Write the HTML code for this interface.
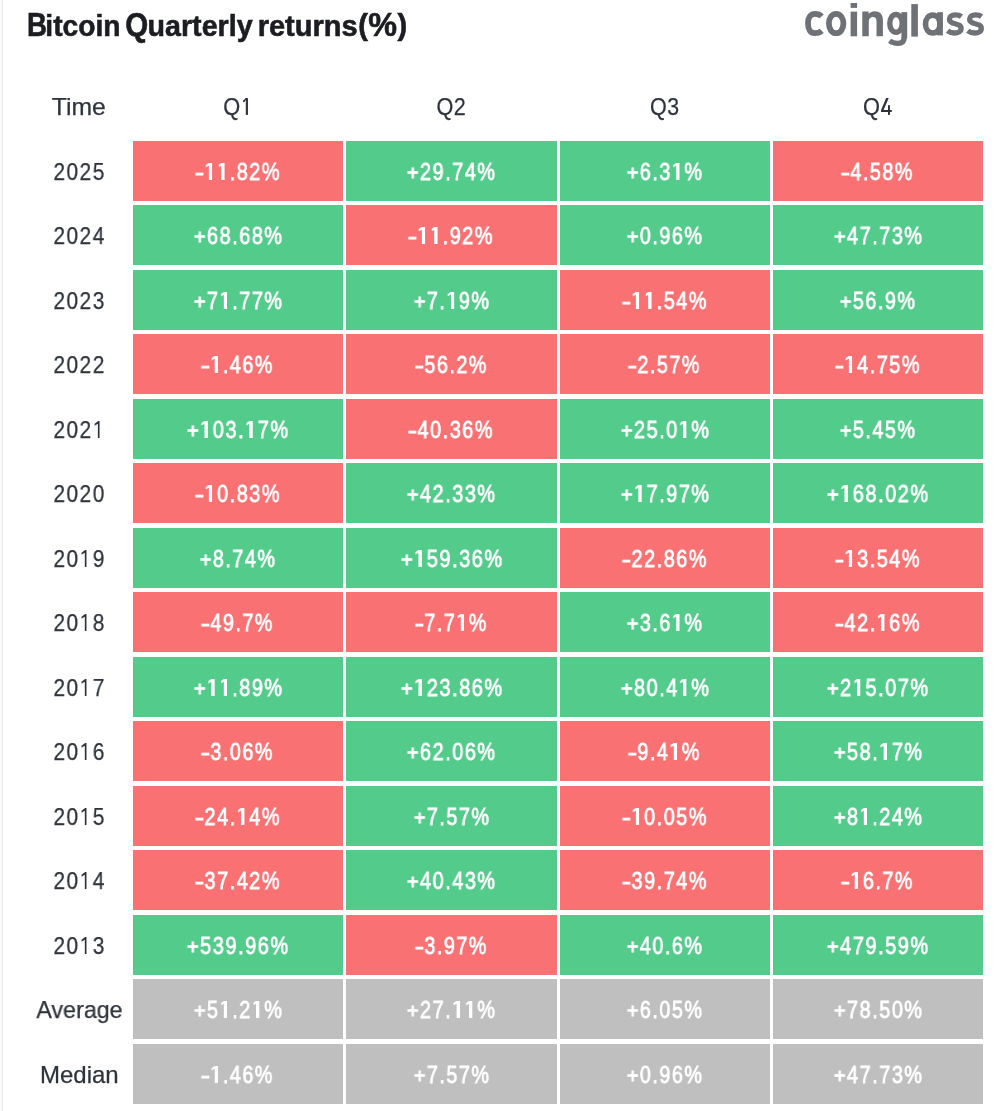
<!DOCTYPE html>
<html><head><meta charset="utf-8"><title>Bitcoin Quarterly returns(%) - coinglass</title>
<style>
html,body{margin:0;padding:0;background:#fff;}
body{width:1005px;height:1111px;overflow:hidden;position:relative;font-family:"Liberation Sans",sans-serif;}
.lb{position:absolute;left:0;top:0;width:2px;height:1111px;background:#fafafa;}
.ln{position:absolute;left:2px;top:0;width:1px;height:1111px;background:#e6e6e6;}
svg.hd{position:absolute;left:0;top:0;will-change:transform;}
svg text{font-family:"Liberation Sans",sans-serif;}
.c{position:absolute;height:60px;color:#fff;font-size:24px;line-height:60px;text-align:center;white-space:nowrap;-webkit-text-stroke:0.8px #fff;}
.c span{display:inline-block;will-change:transform;position:relative;top:1px;letter-spacing:1.83px;margin-right:-1.83px;}
.c i{font-style:normal;font-size:24px;display:inline-block;line-height:1;-webkit-text-stroke-width:1.2px;transform:translateY(1.0px) scaleY(0.84);}
.c b{font-weight:normal;display:inline-block;transform:scaleX(1.45);}
.c s{display:inline-block;width:15.18px;height:0;position:relative;text-decoration:none;}
.c s::before{content:"";position:absolute;left:5.4px;bottom:-0.2px;width:3.6px;height:17.6px;background:#fff;}
.c s u,.y s u{position:absolute;left:0;bottom:0;opacity:0;text-decoration:none;line-height:normal;}
.sr{position:absolute;left:-9999px;top:0;width:1px;height:1px;overflow:hidden;}
.y s{display:inline-block;width:15.05px;height:0;position:relative;text-decoration:none;}
.y s::before{content:"";position:absolute;left:5.85px;bottom:-0.1px;width:2.25px;height:17.0px;background:#2e333b;}
.y s::after{content:"";position:absolute;left:2.25px;bottom:12.30px;width:4.0px;height:4.6px;background:#2e333b;clip-path:polygon(100% 0,100% 50%,0 100%,0 55%);}
.c s::after{content:"";position:absolute;left:1.60px;bottom:12.40px;width:4.3px;height:5.0px;background:#fff;clip-path:polygon(100% 0,100% 52%,0 100%,0 48%);}
.r{background:#f97173;}
.g{background:#52cb8b;}
.a{background:#bfbfbf;}
.h,.y{position:absolute;text-align:center;color:#2e333b;font-size:24px;white-space:nowrap;-webkit-text-stroke:0.25px #2e333b;}
.h{height:40px;line-height:40px;}
.y{left:29px;width:100px;height:60px;line-height:60px;}
.h span,.y span{display:inline-block;will-change:transform;position:relative;top:1px;}
</style></head><body>
<div class="lb"></div><div class="ln"></div>
<h1 class="sr">Bitcoin Quarterly returns(%) — coinglass</h1>
<svg class="hd" width="1005" height="130" viewBox="0 0 1005 130">

<text x="26.92" y="35.80" font-size="32.7" font-weight="bold" textLength="19.97" lengthAdjust="spacingAndGlyphs" fill="#1b1d21" stroke="#1b1d21" stroke-width="0.6">B</text>
<text x="45.32" y="35.80" font-size="30" font-weight="bold" textLength="75.27" lengthAdjust="spacingAndGlyphs" fill="#1b1d21" stroke="#1b1d21" stroke-width="0.6">itcoin</text>
<text x="125.23" y="35.80" font-size="32.7" font-weight="bold" textLength="22.98" lengthAdjust="spacingAndGlyphs" fill="#1b1d21" stroke="#1b1d21" stroke-width="0.6">Q</text>
<text x="147.58" y="35.80" font-size="30" font-weight="bold" textLength="104.97" lengthAdjust="spacingAndGlyphs" fill="#1b1d21" stroke="#1b1d21" stroke-width="0.6">uarterly</text>
<text x="257.66" y="35.80" font-size="30" font-weight="bold" textLength="100.06" lengthAdjust="spacingAndGlyphs" fill="#1b1d21" stroke="#1b1d21" stroke-width="0.6">returns</text>
<text x="358.20" y="34.80" font-size="29.1" font-weight="bold" textLength="9.69" lengthAdjust="spacingAndGlyphs" fill="#1b1d21" stroke="#1b1d21" stroke-width="0.6">(</text>
<text x="368.31" y="35.80" font-size="32.7" font-weight="bold" textLength="28.76" lengthAdjust="spacingAndGlyphs" fill="#1b1d21" stroke="#1b1d21" stroke-width="0.6">%</text>
<text x="397.50" y="34.80" font-size="29.1" font-weight="bold" textLength="9.69" lengthAdjust="spacingAndGlyphs" fill="#1b1d21" stroke="#1b1d21" stroke-width="0.6">)</text>
<g fill="#6e7276">
<rect x="850.6" y="11.6" width="6.5" height="24.7"/>
<rect x="850.6" y="3.0" width="6.5" height="4.9"/>
<path d="M862.3,11.4 H868.6 V13.8 C870.2,12.1 872.3,11.2 874.6,11.2 C879.8,11.2 882.9,14.4 882.9,19.8 V36.3 H876.5 V21 C876.5,18.4 875.2,16.9 872.8,16.9 C870.5,16.9 868.8,18.6 868.8,21.2 V36.3 H862.3 Z"/>
<rect x="901.4" y="12.1" width="5.8" height="26.4"/>
<rect x="911.3" y="4.1" width="6.6" height="32.5"/>
<rect x="937.2" y="12.2" width="5.7" height="23.2"/>
</g>
<g fill="none" stroke="#6e7276">
<path stroke-width="5.8" d="M821.65,16.4 C820,14.6 817.6,13.9 814.8,13.9 C810.5,13.9 808,17.6 808,23.55 C808,29.5 810.5,33.2 814.8,33.2 C817.6,33.2 820,32.5 821.65,30.8"/>
<path stroke-width="5.8" d="M836.15,13.9 C840.35,13.9 843.4,17.95 843.4,23.55 C843.4,29.15 840.35,33.2 836.15,33.2 C831.95,33.2 828.9,29.15 828.9,23.55 C828.9,17.95 831.95,13.9 836.15,13.9 Z"/>
<path stroke-width="5.4" d="M896,14.5 C899.6,14.5 902.2,18.24 902.2,23.4 C902.2,28.56 899.6,32.3 896,32.3 C892.4,32.3 889.8,28.56 889.8,23.4 C889.8,18.24 892.4,14.5 896,14.5 Z"/>
<path stroke-width="5.2" d="M904.3,37 C904.3,41.6 901.6,43.4 897.8,43.4 C894.6,43.4 891.8,42.5 889.6,40.8"/>
<path stroke-width="5.6" d="M932.7,15.15 C936.88,15.15 939.9,18.91 939.9,24.1 C939.9,29.29 936.88,33.05 932.7,33.05 C928.52,33.05 925.5,29.29 925.5,24.1 C925.5,18.91 928.52,15.15 932.7,15.15 Z"/>
<path stroke-width="5.3" d="M961.4,16.55 C959.8,15.3 957.6,14.85 955.2,14.85 C951.8,14.85 949.4,16.6 949.4,19.3 C949.4,22.2 951.8,23 955,23.8 C958.6,24.7 961.1,25.4 961.1,28.4 C961.1,31.3 958.3,33.0 954.5,33.0 C951.6,33.0 949.2,32.1 947.55,30.75"/>
<path stroke-width="5.3" transform="translate(20.2,0)" d="M961.4,16.55 C959.8,15.3 957.6,14.85 955.2,14.85 C951.8,14.85 949.4,16.6 949.4,19.3 C949.4,22.2 951.8,23 955,23.8 C958.6,24.7 961.1,25.4 961.1,28.4 C961.1,31.3 958.3,33.0 954.5,33.0 C951.6,33.0 949.2,32.1 947.55,30.75"/>
</g>
<text x="223.30" y="114.90" font-size="24" font-weight="normal" textLength="16.97" lengthAdjust="spacingAndGlyphs" fill="#2e333b" stroke="#2e333b" stroke-width="0.25">Q</text>
<g fill="#2e333b"><rect x="245.8" y="98.1" width="2.15" height="16.8"/><path d="M245.8,98.1 H247.2 L244.0,102.5 L242.6,100.9 Z"/></g>
<text x="436.61" y="114.90" font-size="24" font-weight="normal" textLength="16.86" lengthAdjust="spacingAndGlyphs" fill="#2e333b" stroke="#2e333b" stroke-width="0.25">Q</text>
<text x="453.82" y="114.90" font-size="24" font-weight="normal" textLength="12.01" lengthAdjust="spacingAndGlyphs" fill="#2e333b" stroke="#2e333b" stroke-width="0.25">2</text>
<text x="650.01" y="114.90" font-size="24" font-weight="normal" textLength="16.75" lengthAdjust="spacingAndGlyphs" fill="#2e333b" stroke="#2e333b" stroke-width="0.25">Q</text>
<text x="667.20" y="114.90" font-size="24" font-weight="normal" textLength="11.83" lengthAdjust="spacingAndGlyphs" fill="#2e333b" stroke="#2e333b" stroke-width="0.25">3</text>
<text x="863.00" y="114.90" font-size="24" font-weight="normal" textLength="16.97" lengthAdjust="spacingAndGlyphs" fill="#2e333b" stroke="#2e333b" stroke-width="0.25">Q</text>
<g fill="#2e333b"><path d="M886.1,97.9 H888.7 L883.6,110.1 H891.8 V111.9 H881.0 V110.3 Z"/><rect x="888.0" y="105.2" width="1.95" height="9.7"/></g>
</svg>
<div class="h" style="left:29px;width:100px;top:86px"><span style="transform:translateX(-0.5px) scaleX(1.03);letter-spacing:0px">Time</span></div>
<div class="y" style="top:141px"><span style="transform:translateX(-0.5px) scaleX(0.87);letter-spacing:1.7px;margin-right:-1.7px">2025</span></div>
<div class="c r" style="left:133px;top:141px;width:210px"><span style="transform:translateX(-0.4px) scaleX(0.8282)"><b>-</b><s><u>1</u></s><s><u>1</u></s>.82%</span></div>
<div class="c g" style="left:346px;top:141px;width:211px"><span style="transform:translateX(-0.4px) scaleX(0.8274)"><i>+</i>29.74%</span></div>
<div class="c g" style="left:560px;top:141px;width:210px"><span style="transform:translateX(-0.4px) scaleX(0.8215)"><i>+</i>6.3<s><u>1</u></s>%</span></div>
<div class="c r" style="left:773px;top:141px;width:210px"><span style="transform:translateX(-0.4px) scaleX(0.8223)"><b>-</b>4.58%</span></div>
<div class="y" style="top:205px"><span style="transform:translateX(-0.5px) scaleX(0.87);letter-spacing:1.7px;margin-right:-1.7px">2024</span></div>
<div class="c g" style="left:133px;top:205px;width:210px"><span style="transform:translateX(-0.4px) scaleX(0.8274)"><i>+</i>68.68%</span></div>
<div class="c r" style="left:346px;top:205px;width:211px"><span style="transform:translateX(-0.4px) scaleX(0.8282)"><b>-</b><s><u>1</u></s><s><u>1</u></s>.92%</span></div>
<div class="c g" style="left:560px;top:205px;width:210px"><span style="transform:translateX(-0.4px) scaleX(0.8215)"><i>+</i>0.96%</span></div>
<div class="c g" style="left:773px;top:205px;width:210px"><span style="transform:translateX(-0.4px) scaleX(0.8274)"><i>+</i>47.73%</span></div>
<div class="y" style="top:270px"><span style="transform:translateX(-0.5px) scaleX(0.87);letter-spacing:1.7px;margin-right:-1.7px">2023</span></div>
<div class="c g" style="left:133px;top:270px;width:210px"><span style="transform:translateX(-0.4px) scaleX(0.8274)"><i>+</i>7<s><u>1</u></s>.77%</span></div>
<div class="c g" style="left:346px;top:270px;width:211px"><span style="transform:translateX(-0.4px) scaleX(0.8215)"><i>+</i>7.<s><u>1</u></s>9%</span></div>
<div class="c r" style="left:560px;top:270px;width:210px"><span style="transform:translateX(-0.4px) scaleX(0.8282)"><b>-</b><s><u>1</u></s><s><u>1</u></s>.54%</span></div>
<div class="c g" style="left:773px;top:270px;width:210px"><span style="transform:translateX(-0.4px) scaleX(0.8215)"><i>+</i>56.9%</span></div>
<div class="y" style="top:334px"><span style="transform:translateX(-0.5px) scaleX(0.87);letter-spacing:1.7px;margin-right:-1.7px">2022</span></div>
<div class="c r" style="left:133px;top:334px;width:210px"><span style="transform:translateX(-0.4px) scaleX(0.8223)"><b>-</b><s><u>1</u></s>.46%</span></div>
<div class="c r" style="left:346px;top:334px;width:211px"><span style="transform:translateX(-0.4px) scaleX(0.8223)"><b>-</b>56.2%</span></div>
<div class="c r" style="left:560px;top:334px;width:210px"><span style="transform:translateX(-0.4px) scaleX(0.8223)"><b>-</b>2.57%</span></div>
<div class="c r" style="left:773px;top:334px;width:210px"><span style="transform:translateX(-0.4px) scaleX(0.8284)"><b>-</b><s><u>1</u></s>4.75%</span></div>
<div class="y" style="top:399px"><span style="transform:translateX(-0.5px) scaleX(0.87);letter-spacing:1.7px;margin-right:-1.7px">202<s><u>1</u></s></span></div>
<div class="c g" style="left:133px;top:399px;width:210px"><span style="transform:translateX(-0.4px) scaleX(0.8318)"><i>+</i><s><u>1</u></s>03.<s><u>1</u></s>7%</span></div>
<div class="c r" style="left:346px;top:399px;width:211px"><span style="transform:translateX(-0.4px) scaleX(0.8284)"><b>-</b>40.36%</span></div>
<div class="c g" style="left:560px;top:399px;width:210px"><span style="transform:translateX(-0.4px) scaleX(0.8274)"><i>+</i>25.0<s><u>1</u></s>%</span></div>
<div class="c g" style="left:773px;top:399px;width:210px"><span style="transform:translateX(-0.4px) scaleX(0.8215)"><i>+</i>5.45%</span></div>
<div class="y" style="top:463px"><span style="transform:translateX(-0.5px) scaleX(0.87);letter-spacing:1.7px;margin-right:-1.7px">2020</span></div>
<div class="c r" style="left:133px;top:463px;width:210px"><span style="transform:translateX(-0.4px) scaleX(0.8284)"><b>-</b><s><u>1</u></s>0.83%</span></div>
<div class="c g" style="left:346px;top:463px;width:211px"><span style="transform:translateX(-0.4px) scaleX(0.8274)"><i>+</i>42.33%</span></div>
<div class="c g" style="left:560px;top:463px;width:210px"><span style="transform:translateX(-0.4px) scaleX(0.8274)"><i>+</i><s><u>1</u></s>7.97%</span></div>
<div class="c g" style="left:773px;top:463px;width:210px"><span style="transform:translateX(-0.4px) scaleX(0.8318)"><i>+</i><s><u>1</u></s>68.02%</span></div>
<div class="y" style="top:528px"><span style="transform:translateX(-0.5px) scaleX(0.87);letter-spacing:1.7px;margin-right:-1.7px">20<s><u>1</u></s>9</span></div>
<div class="c g" style="left:133px;top:528px;width:210px"><span style="transform:translateX(-0.4px) scaleX(0.8215)"><i>+</i>8.74%</span></div>
<div class="c g" style="left:346px;top:528px;width:211px"><span style="transform:translateX(-0.4px) scaleX(0.8318)"><i>+</i><s><u>1</u></s>59.36%</span></div>
<div class="c r" style="left:560px;top:528px;width:210px"><span style="transform:translateX(-0.4px) scaleX(0.8284)"><b>-</b>22.86%</span></div>
<div class="c r" style="left:773px;top:528px;width:210px"><span style="transform:translateX(-0.4px) scaleX(0.8284)"><b>-</b><s><u>1</u></s>3.54%</span></div>
<div class="y" style="top:592px"><span style="transform:translateX(-0.5px) scaleX(0.87);letter-spacing:1.7px;margin-right:-1.7px">20<s><u>1</u></s>8</span></div>
<div class="c r" style="left:133px;top:592px;width:210px"><span style="transform:translateX(-0.4px) scaleX(0.8223)"><b>-</b>49.7%</span></div>
<div class="c r" style="left:346px;top:592px;width:211px"><span style="transform:translateX(-0.4px) scaleX(0.8223)"><b>-</b>7.7<s><u>1</u></s>%</span></div>
<div class="c g" style="left:560px;top:592px;width:210px"><span style="transform:translateX(-0.4px) scaleX(0.8215)"><i>+</i>3.6<s><u>1</u></s>%</span></div>
<div class="c r" style="left:773px;top:592px;width:210px"><span style="transform:translateX(-0.4px) scaleX(0.8284)"><b>-</b>42.<s><u>1</u></s>6%</span></div>
<div class="y" style="top:657px"><span style="transform:translateX(-0.5px) scaleX(0.87);letter-spacing:1.7px;margin-right:-1.7px">20<s><u>1</u></s>7</span></div>
<div class="c g" style="left:133px;top:657px;width:210px"><span style="transform:translateX(-0.4px) scaleX(0.8276)"><i>+</i><s><u>1</u></s><s><u>1</u></s>.89%</span></div>
<div class="c g" style="left:346px;top:657px;width:211px"><span style="transform:translateX(-0.4px) scaleX(0.8318)"><i>+</i><s><u>1</u></s>23.86%</span></div>
<div class="c g" style="left:560px;top:657px;width:210px"><span style="transform:translateX(-0.4px) scaleX(0.8274)"><i>+</i>80.4<s><u>1</u></s>%</span></div>
<div class="c g" style="left:773px;top:657px;width:210px"><span style="transform:translateX(-0.4px) scaleX(0.8318)"><i>+</i>2<s><u>1</u></s>5.07%</span></div>
<div class="y" style="top:721px"><span style="transform:translateX(-0.5px) scaleX(0.87);letter-spacing:1.7px;margin-right:-1.7px">20<s><u>1</u></s>6</span></div>
<div class="c r" style="left:133px;top:721px;width:210px"><span style="transform:translateX(-0.4px) scaleX(0.8223)"><b>-</b>3.06%</span></div>
<div class="c g" style="left:346px;top:721px;width:211px"><span style="transform:translateX(-0.4px) scaleX(0.8274)"><i>+</i>62.06%</span></div>
<div class="c r" style="left:560px;top:721px;width:210px"><span style="transform:translateX(-0.4px) scaleX(0.8223)"><b>-</b>9.4<s><u>1</u></s>%</span></div>
<div class="c g" style="left:773px;top:721px;width:210px"><span style="transform:translateX(-0.4px) scaleX(0.8274)"><i>+</i>58.<s><u>1</u></s>7%</span></div>
<div class="y" style="top:786px"><span style="transform:translateX(-0.5px) scaleX(0.87);letter-spacing:1.7px;margin-right:-1.7px">20<s><u>1</u></s>5</span></div>
<div class="c r" style="left:133px;top:786px;width:210px"><span style="transform:translateX(-0.4px) scaleX(0.8284)"><b>-</b>24.<s><u>1</u></s>4%</span></div>
<div class="c g" style="left:346px;top:786px;width:211px"><span style="transform:translateX(-0.4px) scaleX(0.8215)"><i>+</i>7.57%</span></div>
<div class="c r" style="left:560px;top:786px;width:210px"><span style="transform:translateX(-0.4px) scaleX(0.8284)"><b>-</b><s><u>1</u></s>0.05%</span></div>
<div class="c g" style="left:773px;top:786px;width:210px"><span style="transform:translateX(-0.4px) scaleX(0.8274)"><i>+</i>8<s><u>1</u></s>.24%</span></div>
<div class="y" style="top:850px"><span style="transform:translateX(-0.5px) scaleX(0.87);letter-spacing:1.7px;margin-right:-1.7px">20<s><u>1</u></s>4</span></div>
<div class="c r" style="left:133px;top:850px;width:210px"><span style="transform:translateX(-0.4px) scaleX(0.8284)"><b>-</b>37.42%</span></div>
<div class="c g" style="left:346px;top:850px;width:211px"><span style="transform:translateX(-0.4px) scaleX(0.8274)"><i>+</i>40.43%</span></div>
<div class="c r" style="left:560px;top:850px;width:210px"><span style="transform:translateX(-0.4px) scaleX(0.8284)"><b>-</b>39.74%</span></div>
<div class="c r" style="left:773px;top:850px;width:210px"><span style="transform:translateX(-0.4px) scaleX(0.8223)"><b>-</b><s><u>1</u></s>6.7%</span></div>
<div class="y" style="top:915px"><span style="transform:translateX(-0.5px) scaleX(0.87);letter-spacing:1.7px;margin-right:-1.7px">20<s><u>1</u></s>3</span></div>
<div class="c g" style="left:133px;top:915px;width:210px"><span style="transform:translateX(-0.4px) scaleX(0.8318)"><i>+</i>539.96%</span></div>
<div class="c r" style="left:346px;top:915px;width:211px"><span style="transform:translateX(-0.4px) scaleX(0.8223)"><b>-</b>3.97%</span></div>
<div class="c g" style="left:560px;top:915px;width:210px"><span style="transform:translateX(-0.4px) scaleX(0.8215)"><i>+</i>40.6%</span></div>
<div class="c g" style="left:773px;top:915px;width:210px"><span style="transform:translateX(-0.4px) scaleX(0.8318)"><i>+</i>479.59%</span></div>
<div class="y" style="top:979px"><span style="transform:translateX(0px) scaleX(0.97);letter-spacing:0px">Average</span></div>
<div class="c a" style="left:133px;top:979px;width:210px"><span style="transform:translateX(-0.4px) scaleX(0.8274)"><i>+</i>5<s><u>1</u></s>.2<s><u>1</u></s>%</span></div>
<div class="c a" style="left:346px;top:979px;width:211px"><span style="transform:translateX(-0.4px) scaleX(0.8276)"><i>+</i>27.<s><u>1</u></s><s><u>1</u></s>%</span></div>
<div class="c a" style="left:560px;top:979px;width:210px"><span style="transform:translateX(-0.4px) scaleX(0.8213)"><i>+</i>6.05%</span></div>
<div class="c a" style="left:773px;top:979px;width:210px"><span style="transform:translateX(-0.4px) scaleX(0.8274)"><i>+</i>78.50%</span></div>
<div class="y" style="top:1044px"><span style="transform:translateX(0px) scaleX(1.0);letter-spacing:0px">Median</span></div>
<div class="c a" style="left:133px;top:1044px;width:210px"><span style="transform:translateX(-0.4px) scaleX(0.8223)"><b>-</b><s><u>1</u></s>.46%</span></div>
<div class="c a" style="left:346px;top:1044px;width:211px"><span style="transform:translateX(-0.4px) scaleX(0.8213)"><i>+</i>7.57%</span></div>
<div class="c a" style="left:560px;top:1044px;width:210px"><span style="transform:translateX(-0.4px) scaleX(0.8213)"><i>+</i>0.96%</span></div>
<div class="c a" style="left:773px;top:1044px;width:210px"><span style="transform:translateX(-0.4px) scaleX(0.8274)"><i>+</i>47.73%</span></div>
</body></html>
